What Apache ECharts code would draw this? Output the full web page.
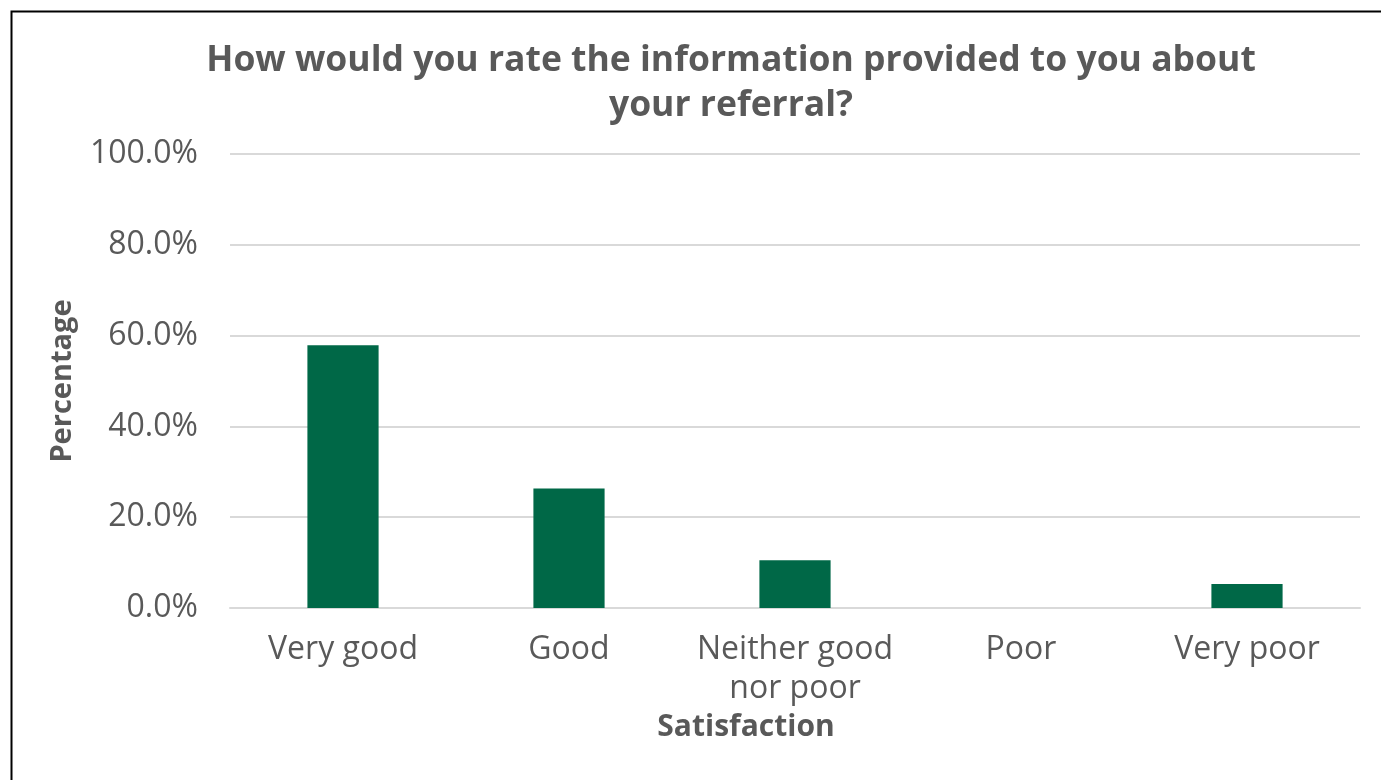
<!DOCTYPE html>
<html>
<head>
<meta charset="utf-8">
<title>Referral information rating</title>
<script src="https://cdn.jsdelivr.net/npm/echarts@6/dist/echarts.min.js"></script>
<style>
html,body{margin:0;padding:0;background:#fff;}
#chart{width:1381px;height:780px;}
</style>
</head>
<body>
<div id="chart"></div>
<script>
// satisfaction categories and share of responses (%)
var categories = ["Very good", "Good", "Neither good\nnor poor", "Poor", "Very poor"];
var percentages = [57.9, 26.3, 10.5, 0, 5.3];
var yTicks = [0, 20, 40, 60, 80, 100];

var textColor = "#595959";
var fontName = "'Open Sans', 'Noto Sans', sans-serif";

var chart = echarts.init(document.getElementById("chart"));
var option = {
	backgroundColor: "#fff",
	animation: false,
	textStyle: { fontFamily: fontName },
	title: {
		text: "How would you rate the information provided to you about\nyour referral?",
		left: 726,
		textAlign: "center",
		top: 33,
		textStyle: {
			color: textColor,
			fontSize: 35.5,
			fontWeight: "bold",
			lineHeight: 45,
			fontFamily: fontName
		}
	},
	graphic: [{
		type: "rect",
		left: 9,
		top: 9,
		shape: { width: 1400, height: 800 },
		style: { fill: "none", stroke: "#000", lineWidth: 2 },
		silent: true
	}],
	grid: { left: 230, right: 21, top: 154, bottom: 172 },
	xAxis: {
		type: "category",
		data: categories,
		name: "Satisfaction",
		nameLocation: "middle",
		nameGap: 100,
		// name sits a bit left of the plot centre in the original
		nameTextStyle: { color: textColor, fontSize: 30, fontWeight: "bold", fontFamily: fontName, padding: [0, 98, 0, 0] },
		axisTick: { show: false },
		axisLine: { lineStyle: { color: "#d9d9d9", width: 2 } },
		axisLabel: { color: textColor, fontSize: 32, margin: 22, lineHeight: 39, fontFamily: fontName, interval: 0 }
	},
	yAxis: {
		type: "value",
		min: yTicks[0],
		max: yTicks[yTicks.length - 1],
		interval: yTicks[1] - yTicks[0],
		name: "Percentage",
		nameLocation: "middle",
		nameGap: 153,
		nameTextStyle: { color: textColor, fontSize: 29, fontWeight: "bold", fontFamily: fontName },
		axisLine: { show: false },
		axisTick: { show: false },
		splitLine: { lineStyle: { color: "#d9d9d9", width: 2 } },
		axisLabel: {
			color: textColor,
			fontSize: 32,
			margin: 32,
			fontFamily: fontName,
			formatter: function (v) { return v.toFixed(1) + "%"; }
		}
	},
	series: [{
		type: "bar",
		data: percentages,
		barWidth: "31.5%",
		itemStyle: { color: "#006847" }
	}]
};
chart.setOption(option);
</script>
</body>
</html>
